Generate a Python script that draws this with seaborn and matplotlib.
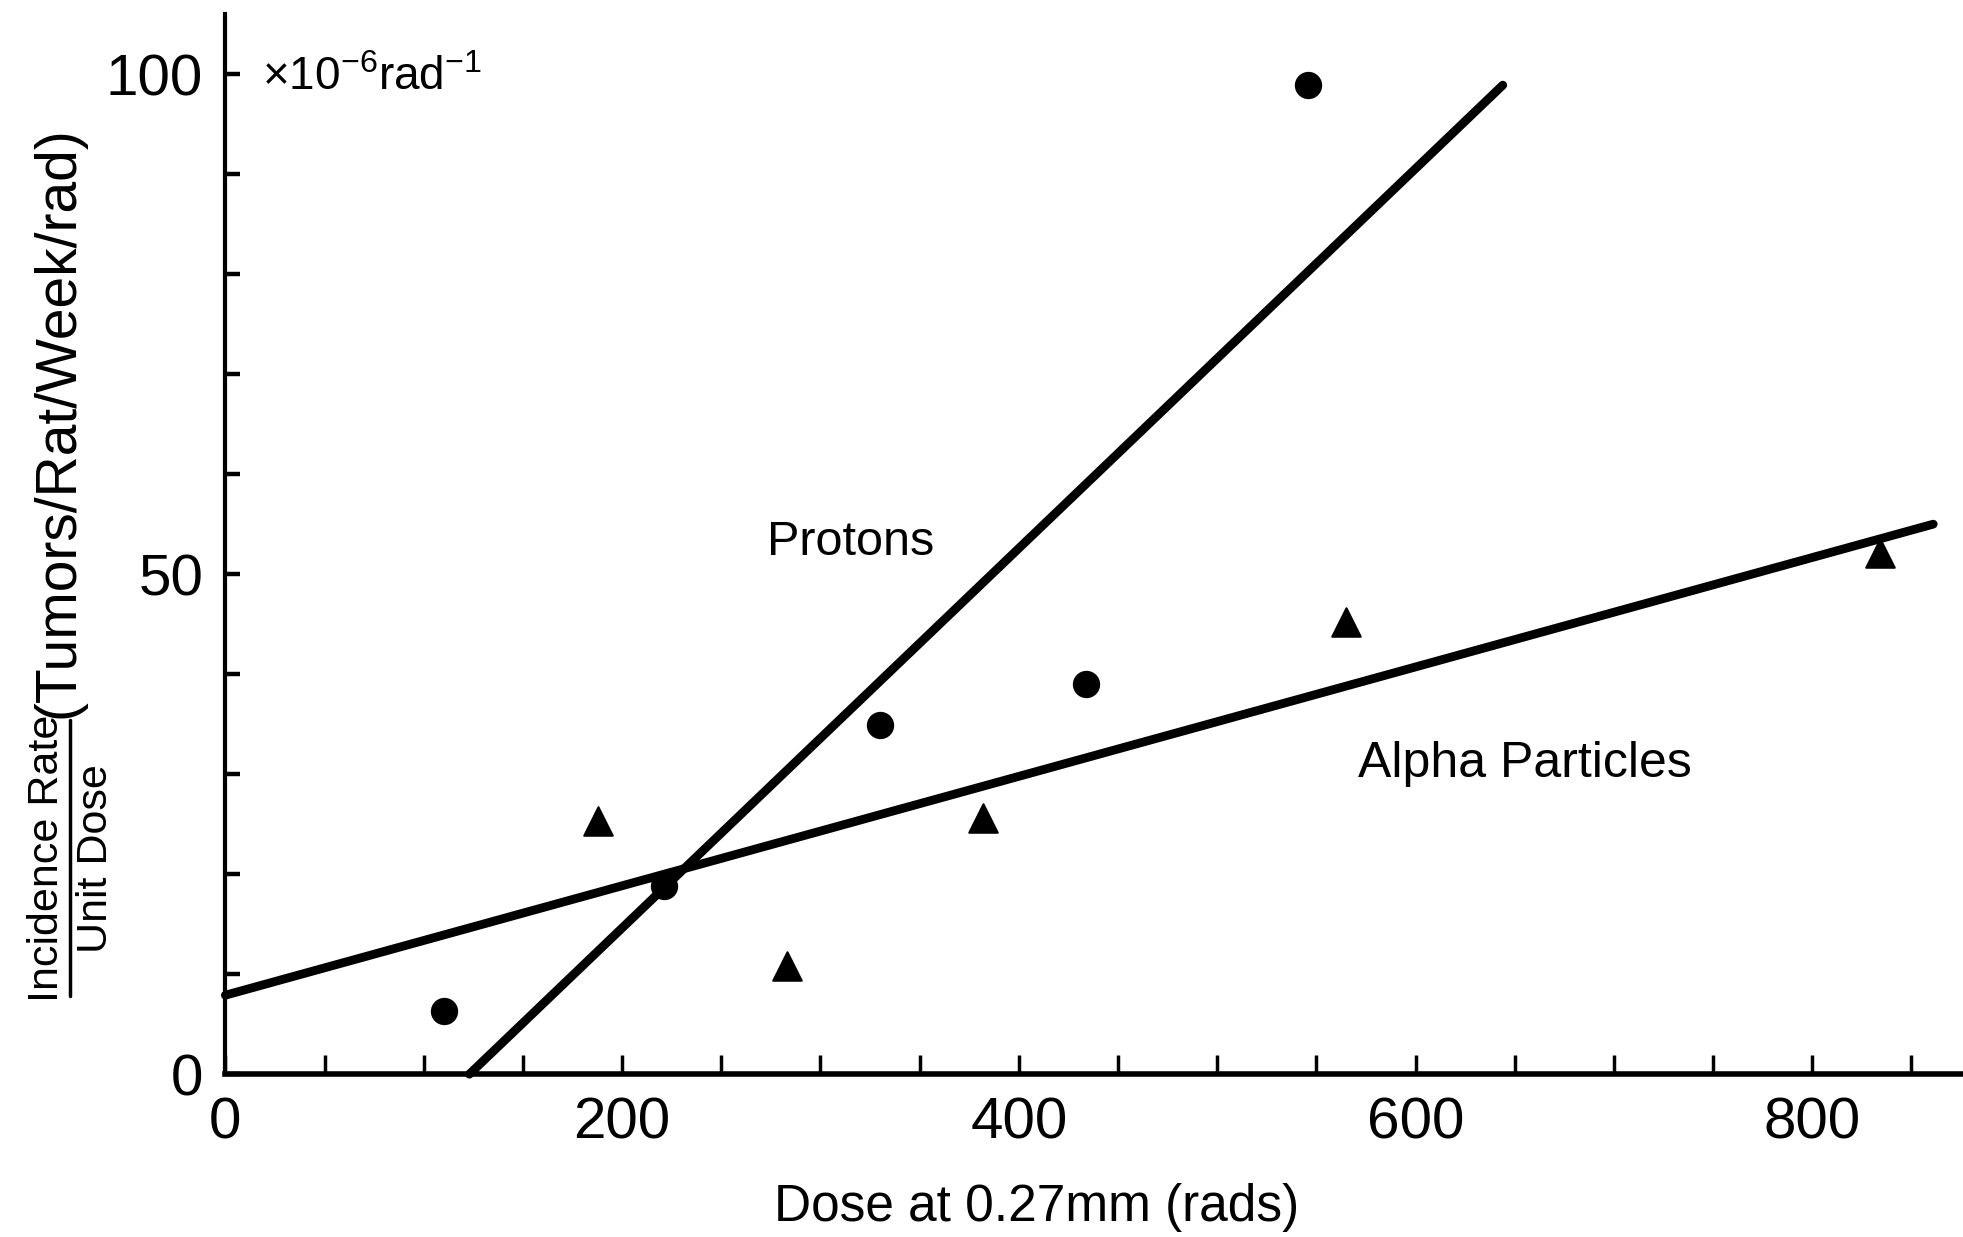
import matplotlib
matplotlib.use('Agg')
import matplotlib.pyplot as plt
import seaborn as sns
import pandas as pd
from matplotlib.lines import Line2D

# ---------------- data ----------------
proton_dose = [110, 221, 330, 434, 546]
proton_rate = [6.3, 18.8, 34.9, 39.0, 98.9]
alpha_dose = [188, 283, 382, 565, 834]
alpha_rate = [25.3, 10.8, 25.6, 45.2, 52.1]

proton_fit_dose = [123, 644]
proton_fit_rate = [0.0, 98.9]
alpha_fit_dose = [0, 861]
alpha_fit_rate = [7.9, 55.0]

x_ticks = [0, 50, 100, 150, 200, 250, 300, 350, 400, 450, 500, 550, 600, 650, 700, 750, 800, 850]
x_tick_labels = ['0', '', '', '', '200', '', '', '', '400', '', '', '', '600', '', '', '', '800', '']
y_ticks = [0, 10, 20, 30, 40, 50, 60, 70, 80, 90, 100]
y_tick_labels = ['0', '', '', '', '', '50', '', '', '', '', '100']

# ---------------- style ----------------
sns.set_theme(style='ticks')
FONT = ['Liberation Sans Narrow', 'Liberation Sans', 'DejaVu Sans']
plt.rcParams['font.family'] = FONT
plt.rcParams['text.color'] = 'black'
plt.rcParams['mathtext.fontset'] = 'custom'
plt.rcParams['mathtext.rm'] = 'Liberation Sans'
plt.rcParams['mathtext.it'] = 'Liberation Sans'

fig = plt.figure(figsize=(19.63, 12.37), dpi=100)
ax = fig.add_axes([0.1148, 0.1316, 0.8852, 0.857])

pts_p = pd.DataFrame({'dose': proton_dose, 'rate': proton_rate})
pts_a = pd.DataFrame({'dose': alpha_dose, 'rate': alpha_rate})
fit_p = pd.DataFrame({'dose': proton_fit_dose, 'rate': proton_fit_rate})
fit_a = pd.DataFrame({'dose': alpha_fit_dose, 'rate': alpha_fit_rate})

sns.lineplot(data=fit_p, x='dose', y='rate', ax=ax, color='black', lw=6.3,
             solid_capstyle='round', clip_on=False)
sns.lineplot(data=fit_a, x='dose', y='rate', ax=ax, color='black', lw=6.3,
             solid_capstyle='round', clip_on=False)
sns.scatterplot(data=pts_p, x='dose', y='rate', ax=ax, marker='o', s=330,
                color='black', edgecolor='black', linewidth=1.5, zorder=5, clip_on=False)
sns.scatterplot(data=pts_a, x='dose', y='rate', ax=ax, marker='^', s=420,
                color='black', edgecolor='black', linewidth=1.5, zorder=5, clip_on=False)

ax.set_xlim(0, 876)
ax.set_ylim(0, 106)
ax.set_xticks(x_ticks)
ax.set_xticklabels(x_tick_labels)
ax.set_yticks(y_ticks)
ax.set_yticklabels(y_tick_labels)

for s in ['top', 'right']:
    ax.spines[s].set_visible(False)
ax.spines['bottom'].set_linewidth(4.0)
ax.spines['left'].set_linewidth(3.0)
ax.spines['bottom'].set_color('black')
ax.spines['left'].set_color('black')
ax.tick_params(axis='x', direction='in', length=14, width=2.5, pad=16,
               labelsize=42, colors='black')
ax.tick_params(axis='y', direction='in', length=11, width=3.2, pad=16,
               labelsize=42, colors='black')
ax.set_xlabel('')
ax.set_ylabel('')
ax.set_facecolor('white')
fig.patch.set_facecolor('white')

# annotations
ax.text(0.021, 0.94, r'$\times10^{-6}$rad$^{-1}$', transform=ax.transAxes,
        fontsize=33, ha='left', va='center', color='black')
ax.text(315, 53.2, 'Protons', fontsize=35, ha='center', va='center', color='black')
ax.text(655, 31.0, 'Alpha Particles', fontsize=36, ha='center', va='center', color='black')

# axis titles
fig.text(0.528, 0.024, 'Dose at 0.27mm (rads)', fontsize=37, ha='center', va='center',
         color='black')
fig.text(0.030, 0.659, '(Tumors/Rat/Week/rad)', fontsize=41, rotation=90,
         ha='center', va='center', color='black')
fig.text(0.024, 0.306, 'Incidence Rate', fontsize=31, rotation=90,
         ha='center', va='center', color='black')
fig.text(0.049, 0.306, 'Unit Dose', fontsize=31, rotation=90,
         ha='center', va='center', color='black')
fig.add_artist(Line2D([0.0355, 0.0355], [0.195, 0.418], transform=fig.transFigure,
                      color='black', lw=2.5))

fig.savefig('out.png', dpi=100, facecolor='white')
